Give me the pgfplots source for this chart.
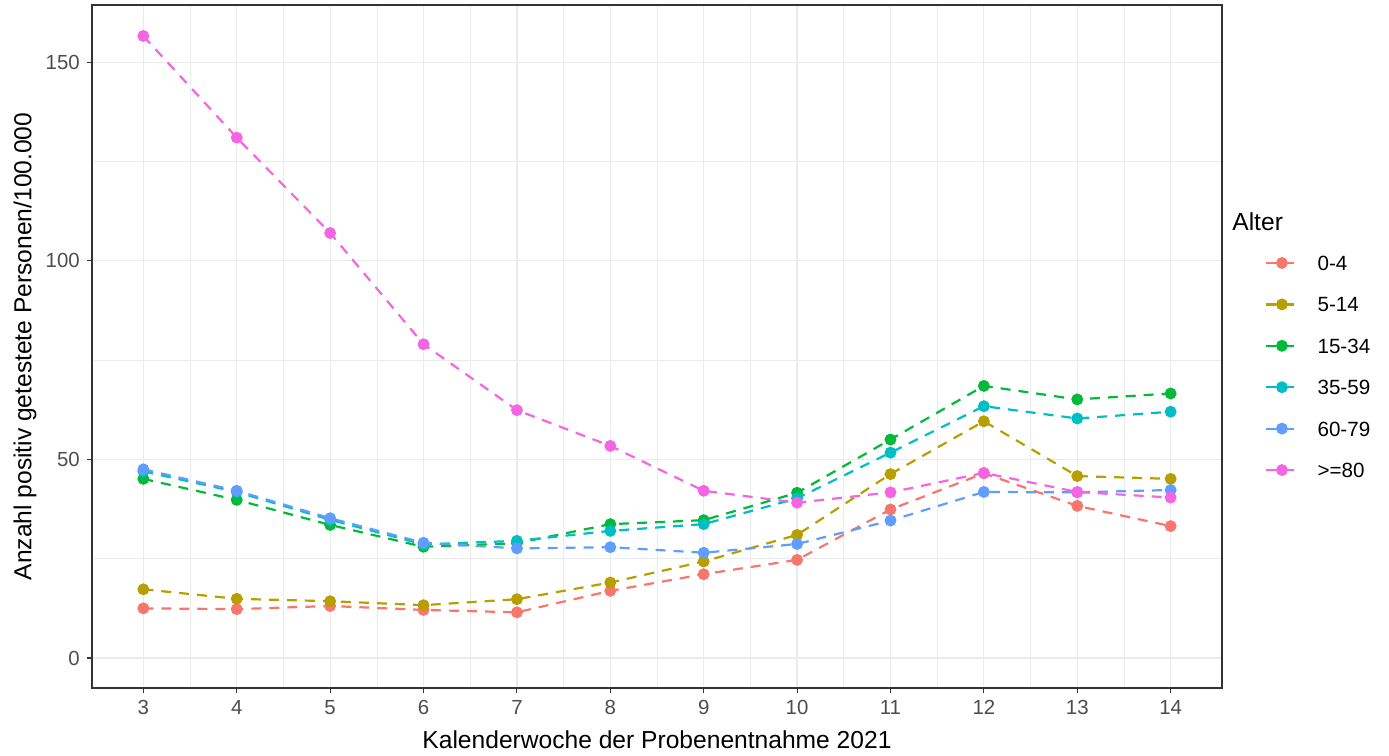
\documentclass[border=0pt]{standalone}
\usepackage{pgfplots}
\pgfplotsset{compat=1.18}
\usepackage{fontspec}
\setmainfont{Liberation Sans}
\definecolor{cA}{HTML}{F8766D}
\definecolor{cB}{HTML}{B79F00}
\definecolor{cC}{HTML}{00BA38}
\definecolor{cD}{HTML}{00BFC4}
\definecolor{cE}{HTML}{619CFF}
\definecolor{cF}{HTML}{F564E3}
\definecolor{gridc}{HTML}{EBEBEB}
\definecolor{gtwenty}{HTML}{333333}
\definecolor{gthirty}{HTML}{4D4D4D}
\begin{document}
\begin{tikzpicture}
\begin{axis}[name=ax, scale only axis, width=565pt, height=341.5pt,
  xmin=2.45, xmax=14.55, ymin=-7.55, ymax=164.4,
  xtick={3,4,...,14}, ytick={0,50,100,150},
  minor xtick={3.5,4.5,...,13.5}, minor ytick={25,75,125},
  grid=both,
  major grid style={color=gridc, line width=0.6pt},
  minor grid style={color=gridc, line width=0.3pt},
  axis line style={gtwenty, line width=0.55pt},
  tick align=outside, major tick length=2.6pt, minor tick length=0pt,
  tick style={gtwenty, line width=0.55pt},
  tick pos=left,
  ticklabel style={font=\fontsize{10.2}{12}\selectfont, text=gthirty},
  /pgf/number format/assume math mode=true,
  xlabel={Kalenderwoche der Probenentnahme 2021},
  ylabel={Anzahl positiv getestete Personen/100.000},
  every axis x label/.style={at={(axis description cs:0.5,-0.0761)}, anchor=center, font=\fontsize{12.3}{14}\selectfont},
  every axis y label/.style={at={(axis description cs:-0.0593,0.5)}, anchor=center, rotate=90, font=\fontsize{12.3}{14}\selectfont},
  clip=false,
  legend style={at={(axis description cs:1.038,0.4707)}, anchor=west, draw=none, fill=none, inner sep=0pt,
    row sep=13.3pt, column sep=9.5pt, font=\fontsize{10.3}{12}\selectfont,
    nodes={inner xsep=0pt, inner ysep=0pt, text height=7.4pt, text depth=0pt, anchor=base west}},
  legend cell align=left,
  legend image code/.code={%
    \draw[#1, mark=none] plot coordinates {(0pt,3.7pt) (15.5pt,3.7pt)};
    \draw[#1, only marks] plot coordinates {(7.75pt,3.7pt)};},
  every axis plot/.append style={dash pattern=on 5pt off 4pt, line width=1.1pt, mark=*, mark size=2.4pt, mark options={solid}},
]
\addplot[color=cA] coordinates {(3,12.5) (4,12.3) (5,13.1) (6,12.1) (7,11.5) (8,16.9) (9,21.1) (10,24.7) (11,37.4) (12,46.5) (13,38.3) (14,33.2)};
\addlegendentry{0-4}
\addplot[color=cB] coordinates {(3,17.3) (4,14.9) (5,14.3) (6,13.3) (7,14.8) (8,19.0) (9,24.3) (10,31.0) (11,46.3) (12,59.6) (13,45.8) (14,45.1)};
\addlegendentry{5-14}
\addplot[color=cC] coordinates {(3,45.1) (4,39.8) (5,33.5) (6,28.0) (7,28.9) (8,33.7) (9,34.7) (10,41.6) (11,55.0) (12,68.5) (13,65.1) (14,66.6)};
\addlegendentry{15-34}
\addplot[color=cD] coordinates {(3,47.0) (4,41.8) (5,34.8) (6,28.6) (7,29.5) (8,32.0) (9,33.7) (10,40.2) (11,51.7) (12,63.4) (13,60.3) (14,62.0)};
\addlegendentry{35-59}
\addplot[color=cE] coordinates {(3,47.5) (4,42.1) (5,35.2) (6,29.0) (7,27.6) (8,27.9) (9,26.5) (10,28.7) (11,34.6) (12,41.8) (13,41.7) (14,42.3)};
\addlegendentry{60-79}
\addplot[color=cF] coordinates {(3,156.6) (4,131.0) (5,107.0) (6,79.0) (7,62.4) (8,53.4) (9,42.1) (10,39.1) (11,41.7) (12,46.6) (13,41.8) (14,40.4)};
\addlegendentry{>=80}
\node[anchor=west, inner sep=0pt, font=\fontsize{12.3}{14}\selectfont] at (axis description cs:1.0088,0.682) {Alter};
\end{axis}
\path[use as bounding box] ([xshift=-46pt,yshift=-32.5pt]ax.south west) rectangle ([xshift=83.5pt,yshift=2.5pt]ax.north east);
\end{tikzpicture}
\end{document}
